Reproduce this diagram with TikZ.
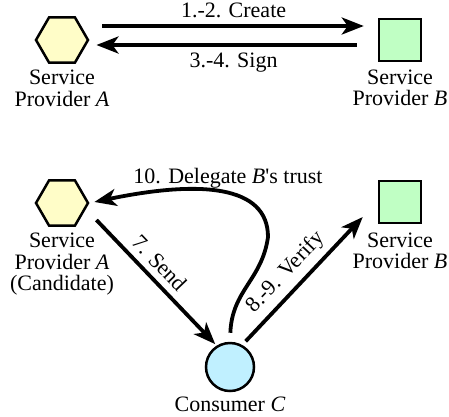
\documentclass[tikz,border=0pt]{standalone}
\usepackage{fontspec}
\setmainfont{Liberation Serif}
\usepackage{xcolor}
\usepackage{tikz}
\usetikzlibrary{arrows.meta,shapes.geometric,positioning}

\definecolor{hexyellow}{RGB}{255,253,200}
\definecolor{boxgreen}{RGB}{192,255,196}
\definecolor{dotblue}{RGB}{192,240,255}

\begin{document}
\begin{tikzpicture}[x=1pt,y=-1pt,
  font=\fontsize{22}{21.5}\selectfont,
  hexa/.style={regular polygon,regular polygon sides=6,draw,line width=2.5pt,fill=hexyellow,minimum size=52pt,inner sep=0pt},
  sq/.style={rectangle,draw,line width=2.5pt,fill=boxgreen,minimum size=42pt,inner sep=0pt},
  circ/.style={circle,draw,line width=2.5pt,fill=dotblue,minimum size=48pt,inner sep=0pt},
  provname/.style={align=center,inner sep=0pt},
  msg/.style={line width=3.8pt,-{Stealth[length=22pt,width=17pt,inset=6pt]}},
  lbl/.style={inner sep=6pt}]
\useasboundingbox (0,0) rectangle (449,416);
%top: create and sign
\node[hexa] (hexA1) at (62,40) {};
\node[sq] (sqB1) at (400,40) {};
\node[provname,below=6pt of hexA1] (txtA1) {Service\\Provider \textit{A}};
\node[provname,below=7pt of sqB1] (txtB1) {Service\\Provider \textit{B}};
\draw[msg,shorten <=13pt,shorten >=14pt] ([yshift=14pt]hexA1.east) -- ([yshift=14pt]sqB1.west)
  node[midway,above,lbl] (create) {1.-2. Create};
\draw[msg,shorten <=21pt,shorten >=7pt] ([yshift=-5pt]sqB1.west) -- ([yshift=-5pt]hexA1.east)
  node[midway,below,lbl] (sign) {3.-4. Sign};
%bottom: send, verify, delegate
\node[hexa] (hexA2) at (62,203) {};
\node[sq] (sqB2) at (400,202) {};
\node[circ] (usrC) at (230,367) {};
\node[provname,below=6pt of hexA2] (txtA2) {Service\\Provider \textit{A}\\(Candidate)};
\node[provname,below=8pt of sqB2] (txtB2) {Service\\Provider \textit{B}};
\node[provname,below=4pt of usrC] (txtC) {Consumer \textit{C}};
\draw[msg,shorten >=2pt] ([shift={(7,17)}]hexA2.east) -- (usrC.122)
  node[pos=0.43,above,sloped,lbl] (send) {7. Send};
\draw[msg,shorten <=5pt] (usrC.61) -- ([shift={(-15,15)}]sqB2.west)
  node[pos=0.47,above,sloped,lbl] (verify) {8.-9. Verify};
\coordinate (bend) at (268,237);
\draw[msg,shorten <=9pt,shorten >=5pt] (usrC.north) .. controls (232,290) and (262,280) .. (bend)
  .. controls (268,185) and (200,180) .. (hexA2.east);
\node[anchor=base,inner sep=0pt] (delegate) at (228,183) {10. Delegate \textit{B}\textquotesingle s trust};
\end{tikzpicture}
\end{document}
